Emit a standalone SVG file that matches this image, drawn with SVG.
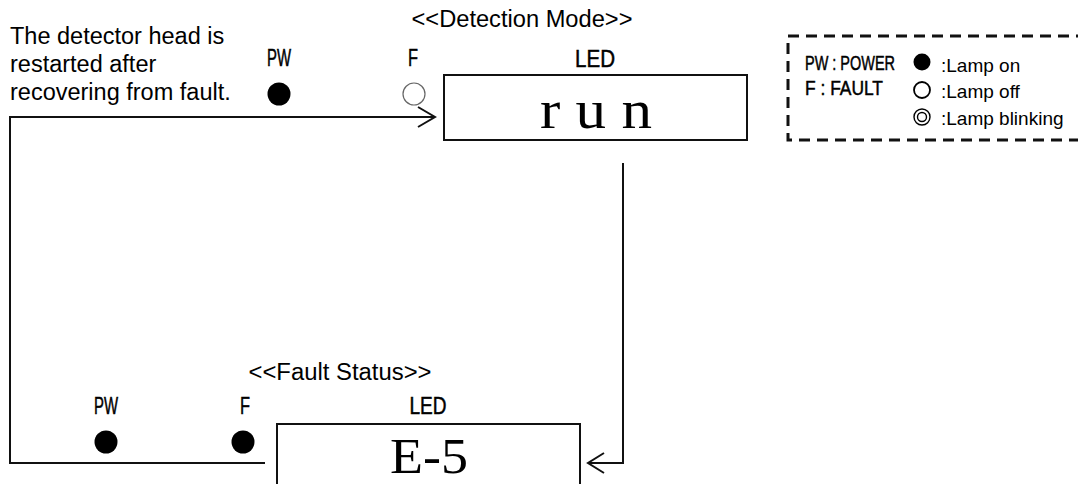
<svg xmlns="http://www.w3.org/2000/svg" width="1078" height="484" viewBox="0 0 1078 484">
<style>
.t{font-family:"Liberation Sans",Arial,sans-serif;fill:#000}
.c{font-family:"Liberation Sans Narrow","Liberation Sans",Arial,sans-serif;fill:#000;stroke:#000;stroke-width:0.5}
.s{font-family:"Liberation Serif","Times New Roman",serif;fill:#000}
.box{fill:#fff;stroke:#111;stroke-width:2}
.ln{fill:none;stroke:#111;stroke-width:2}
.on{fill:#000}
</style>
<rect width="1078" height="484" fill="#fff"/>
<g id="note">
<text class="t" font-size="23.5" x="10" y="44">The detector head is</text>
<text class="t" font-size="23.5" x="10" y="72">restarted after</text>
<text class="t" font-size="23.5" x="10" y="100">recovering from fault.</text>
</g>
<g id="connectors">
<polyline class="ln" points="10,463 10,117 434,117"/>
<polyline class="ln" points="418,107 435,117 418,127"/>
<line class="ln" x1="9" y1="463" x2="265" y2="463"/>
<polyline class="ln" points="623,163 623,463 589,463"/>
<polyline class="ln" points="604,453 588,463 604,473"/>
</g>
<g id="detection-mode">
<text class="t" font-size="23.5" x="522" y="27" text-anchor="middle" textLength="221" lengthAdjust="spacingAndGlyphs">&lt;&lt;Detection Mode&gt;&gt;</text>
<text class="c" font-size="23" x="279" y="66" text-anchor="middle" textLength="24" lengthAdjust="spacingAndGlyphs">PW</text>
<text class="c" font-size="23" x="413" y="66" text-anchor="middle" textLength="10" lengthAdjust="spacingAndGlyphs">F</text>
<text class="c" font-size="23" x="595" y="67" text-anchor="middle" textLength="40" lengthAdjust="spacingAndGlyphs">LED</text>
<circle class="on" cx="279" cy="94" r="11.5"/>
<circle cx="414" cy="94" r="11" fill="#fff" stroke="#666" stroke-width="1.2"/>
<rect class="box" x="444" y="75" width="303" height="65"/>
<text class="s" font-size="55" x="596" y="128" text-anchor="middle" textLength="112" lengthAdjust="spacingAndGlyphs">r u n</text>
</g>
<g id="fault-status">
<text class="t" font-size="23.5" x="340" y="380" text-anchor="middle" textLength="183" lengthAdjust="spacingAndGlyphs">&lt;&lt;Fault Status&gt;&gt;</text>
<text class="c" font-size="23" x="106" y="414" text-anchor="middle" textLength="24" lengthAdjust="spacingAndGlyphs">PW</text>
<text class="c" font-size="23" x="245" y="414" text-anchor="middle" textLength="10" lengthAdjust="spacingAndGlyphs">F</text>
<text class="c" font-size="23" x="428" y="414" text-anchor="middle" textLength="37" lengthAdjust="spacingAndGlyphs">LED</text>
<circle class="on" cx="106" cy="442" r="11.5"/>
<circle class="on" cx="243" cy="442" r="11.5"/>
<rect class="box" x="277" y="424" width="303" height="70"/>
<text class="s" font-size="50" x="429" y="473" text-anchor="middle" textLength="78" lengthAdjust="spacingAndGlyphs">E-5</text>
</g>
<g id="legend">
<rect x="788" y="36" width="310" height="104" fill="none" stroke="#111" stroke-width="3" stroke-dasharray="11 7"/>
<text class="c" font-size="21" x="805" y="70" textLength="90" lengthAdjust="spacingAndGlyphs">PW : POWER</text>
<text class="c" font-size="21" x="805" y="95" textLength="78" lengthAdjust="spacingAndGlyphs">F : FAULT</text>
<circle class="on" cx="922" cy="62" r="8.5"/>
<circle cx="922" cy="90" r="8" fill="none" stroke="#000" stroke-width="1.8"/>
<circle cx="922" cy="117" r="8" fill="none" stroke="#000" stroke-width="1.4"/>
<circle cx="922" cy="117" r="4.5" fill="none" stroke="#000" stroke-width="1.4"/>
<text class="t" font-size="19" x="941" y="72">:Lamp on</text>
<text class="t" font-size="19" x="941" y="98">:Lamp off</text>
<text class="t" font-size="19" x="941" y="125">:Lamp blinking</text>
</g>
</svg>
